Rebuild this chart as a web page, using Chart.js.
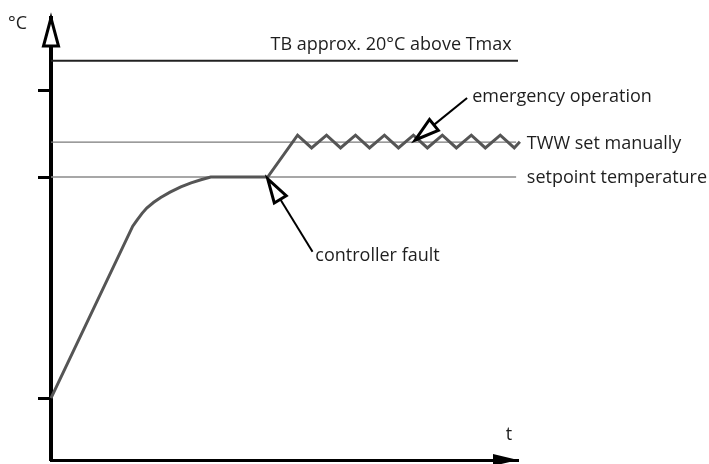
<!DOCTYPE html>
<html>
<head>
<meta charset="utf-8">
<script src="https://cdn.jsdelivr.net/npm/chart.js@4"></script>
<style>
html,body{margin:0;padding:0;background:#fff;}
#wrap{width:709px;height:464px;position:relative;}
</style>
</head>
<body>
<div id="wrap"><canvas id="c"></canvas></div>
<script>
// ---- data (schematic units: x = time 0..100, y = temperature 0..100) ----
const curveX = [0, 17.5, 18.5, 19.5, 20.5, 22, 23.5, 25.5, 27.8, 30, 32.1, 34.2, 46.4,
  52.8, 55.8, 59.0, 62.0, 65.2, 68.2, 71.4, 74.4, 77.6, 80.6, 83.8, 86.8, 90.0, 93.0, 96.2, 99.2, 100.4];
const curveY = [14.0, 52.9, 54.4, 55.8, 57.0, 58.3, 59.4, 60.6, 61.8, 62.7, 63.4, 64.0, 64.0,
  73.5, 70.6, 73.5, 70.6, 73.5, 70.6, 73.5, 70.6, 73.5, 70.6, 73.5, 70.6, 73.5, 70.6, 73.5, 70.6, 72.0];
const tbX = [0, 100];
const tbY = [90.3, 90.3];
const twwX = [0, 99.6];
const twwY = [71.9, 71.9];
const setpointX = [0, 99.6];
const setpointY = [64.0, 64.0];
const yTickValues = [14.0, 64.0, 83.5];

const labels = ["°C", "TB approx. 20°C above Tmax", "emergency operation", "TWW set manually", "setpoint temperature", "controller fault", "t"];
const labelAt = [[-9.2, 97.5], [47.0, 92.8], [90.2, 81.0], [101.9, 70.3], [101.9, 62.6], [56.6, 45.0], [97.4, 4.6]];
// annotation arrows: [tipX, tipY, tailX, tailY] in data units
const pointers = [[46.4, 63.6, 56.0, 47.1], [78.0, 72.4, 89.1, 81.9]];

const toPts = (xs, ys) => xs.map((x, i) => ({x: x, y: ys[i]}));

const FONT = '18px "Open Sans", "Noto Sans", sans-serif';

const decor = {
  id: 'decor',
  afterDraw(chart) {
    const ctx = chart.ctx;
    const xs = chart.scales.x, ys = chart.scales.y;
    const ca = chart.chartArea;
    ctx.save();
    // y-axis hollow arrowhead
    const ax = ca.left, at = ca.top;
    ctx.beginPath();
    ctx.moveTo(ax, at);
    ctx.lineTo(ax - 7.5, at + 28);
    ctx.lineTo(ax + 7.5, at + 28);
    ctx.closePath();
    ctx.fillStyle = '#fff';
    ctx.fill();
    ctx.lineWidth = 3;
    ctx.lineJoin = 'miter';
    ctx.strokeStyle = '#000';
    ctx.stroke();
    // x-axis filled arrowhead
    const bx = ca.right, by = ca.bottom;
    ctx.beginPath();
    ctx.moveTo(bx, by);
    ctx.lineTo(bx - 25, by - 6);
    ctx.lineTo(bx - 25, by + 6);
    ctx.closePath();
    ctx.fillStyle = '#000';
    ctx.fill();
    // annotation pointers
    pointers.forEach(p => {
      const tx = xs.getPixelForValue(p[0]), ty = ys.getPixelForValue(p[1]);
      const lx = xs.getPixelForValue(p[2]), ly = ys.getPixelForValue(p[3]);
      const dx = lx - tx, dy = ly - ty, len = Math.hypot(dx, dy);
      const ux = dx / len, uy = dy / len;
      const hl = 24, hw = 7;
      const bxm = tx + ux * hl, bym = ty + uy * hl;
      ctx.beginPath();
      ctx.moveTo(bxm, bym);
      ctx.lineTo(lx, ly);
      ctx.lineWidth = 2;
      ctx.strokeStyle = '#000';
      ctx.stroke();
      ctx.beginPath();
      ctx.moveTo(tx, ty);
      ctx.lineTo(bxm - uy * hw, bym + ux * hw);
      ctx.lineTo(bxm + uy * hw, bym - ux * hw);
      ctx.closePath();
      ctx.fillStyle = '#fff';
      ctx.fill();
      ctx.lineWidth = 3;
      ctx.stroke();
    });
    // text labels
    ctx.font = FONT;
    ctx.fillStyle = '#1e1e1e';
    ctx.textAlign = 'left';
    ctx.textBaseline = 'alphabetic';
    labels.forEach((t, i) => {
      ctx.fillText(t, xs.getPixelForValue(labelAt[i][0]), ys.getPixelForValue(labelAt[i][1]));
    });
    ctx.restore();
  }
};

new Chart(document.getElementById('c'), {
  type: 'line',
  data: {
    datasets: [
      {label: 'temperature', data: toPts(curveX, curveY), borderColor: '#555', borderWidth: 3, pointRadius: 0, tension: 0, clip: false, borderJoinStyle: 'miter'},
      {label: 'TB', data: toPts(tbX, tbY), borderColor: '#222', borderWidth: 2, pointRadius: 0, clip: false},
      {label: 'TWW', data: toPts(twwX, twwY), borderColor: '#7a7a7a', borderWidth: 1.2, pointRadius: 0, clip: false},
      {label: 'setpoint', data: toPts(setpointX, setpointY), borderColor: '#8a8a8a', borderWidth: 1.5, pointRadius: 0, clip: false}
    ]
  },
  options: {
    responsive: true,
    maintainAspectRatio: false,
    animation: false,
    events: [],
    layout: {padding: {top: 18, right: 191, left: 0, bottom: 0}},
    plugins: {legend: {display: false}, tooltip: {enabled: false}},
    scales: {
      x: {
        type: 'linear', min: 0, max: 100,
        ticks: {display: false},
        grid: {display: false},
        border: {display: true, color: '#000', width: 3},
        afterFit: s => { s.height = 4; }
      },
      y: {
        type: 'linear', min: 0, max: 100,
        ticks: {display: false},
        afterBuildTicks: s => { s.ticks = yTickValues.map(v => ({value: v})); },
        grid: {display: true, drawOnChartArea: false, drawTicks: true, tickLength: 13, tickWidth: 3, tickColor: '#000'},
        border: {display: true, color: '#000', width: 4},
        afterFit: s => { s.width = 51; }
      }
    }
  },
  plugins: [decor]
});
</script>
</body>
</html>
